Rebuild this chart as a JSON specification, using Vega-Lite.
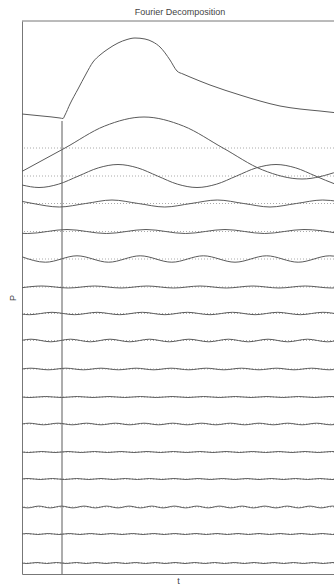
{
"$schema": "https://vega.github.io/schema/vega-lite/v6.json",
"width": 312, "height": 553,
"autosize": {"type": "none"},
"padding": {"left": 22, "top": 21, "right": 0, "bottom": 12},
"background": "white",
"title": {"text": "Fourier Decomposition", "fontSize": 9, "font": "Liberation Sans", "fontWeight": "normal", "color": "#444", "anchor": "middle", "frame": "group", "offset": 7, "baseline": "alphabetic", "dx": 2, "dy": 10},
"config": {
  "view": {"stroke": null},
  "axis": {"domainColor": "#777", "domainWidth": 1, "ticks": false, "labels": false, "grid": false, "titleFont": "Liberation Sans", "titleFontSize": 9, "titleFontWeight": "normal", "titleColor": "#444"}
},
"datasets": {
  "base": [{"b":426},{"b":398},{"b":370.5},{"b":342.5},{"b":315},{"b":287},{"b":260.5},{"b":233.5},{"b":205},{"b":177},{"b":150},{"b":122},{"b":95},{"b":67},{"b":40},{"b":11}],
  "waves": [
{"s":"P","t":0,"p":460},{"s":"P","t":20,"p":458},{"s":"P","t":38,"p":456},{"s":"P","t":41,"p":455.5},{"s":"P","t":43,"p":459},{"s":"P","t":48,"p":470},{"s":"P","t":56,"p":485},{"s":"P","t":64,"p":500},{"s":"P","t":71,"p":512},{"s":"P","t":78,"p":519},{"s":"P","t":86,"p":525},{"s":"P","t":96,"p":531},{"s":"P","t":105,"p":534.5},{"s":"P","t":113,"p":536},{"s":"P","t":123,"p":535},{"s":"P","t":131,"p":532},{"s":"P","t":138,"p":527},{"s":"P","t":148,"p":514},{"s":"P","t":155,"p":503},{"s":"P","t":161,"p":500},{"s":"P","t":168,"p":497},{"s":"P","t":188,"p":489},{"s":"P","t":218,"p":479},{"s":"P","t":238,"p":473},{"s":"P","t":258,"p":468},{"s":"P","t":278,"p":465},{"s":"P","t":298,"p":463},{"s":"P","t":316,"p":461},
{"s":"h1","t":0,"p":402.6},{"s":"h1","t":43,"p":426},{"s":"h1","t":82.5,"p":447.9},{"s":"h1","t":122,"p":457},{"s":"h1","t":161.5,"p":447.9},{"s":"h1","t":201,"p":426},{"s":"h1","t":240.5,"p":404.1},{"s":"h1","t":280,"p":395},{"s":"h1","t":316,"p":402.6},
{"s":"h2","t":0,"p":389},{"s":"h2","t":17,"p":386.5},{"s":"h2","t":36.75,"p":389.9},{"s":"h2","t":56.5,"p":398},{"s":"h2","t":76.25,"p":406.1},{"s":"h2","t":96,"p":409.5},{"s":"h2","t":115.75,"p":406.1},{"s":"h2","t":135.5,"p":398},{"s":"h2","t":155.25,"p":389.9},{"s":"h2","t":175,"p":386.5},{"s":"h2","t":194.75,"p":389.9},{"s":"h2","t":214.5,"p":398},{"s":"h2","t":234.25,"p":406.1},{"s":"h2","t":254,"p":409.5},{"s":"h2","t":273.75,"p":406.1},{"s":"h2","t":293.5,"p":398},{"s":"h2","t":313.25,"p":389.9},{"s":"h2","t":316,"p":389},
{"s":"h3","t":0,"p":372.6},{"s":"h3","t":11,"p":370.5},{"s":"h3","t":37.3,"p":367},{"s":"h3","t":63.7,"p":370.5},{"s":"h3","t":90,"p":374},{"s":"h3","t":116.3,"p":370.5},{"s":"h3","t":142.7,"p":367},{"s":"h3","t":169,"p":370.5},{"s":"h3","t":195.3,"p":374},{"s":"h3","t":221.7,"p":370.5},{"s":"h3","t":248,"p":367},{"s":"h3","t":274.3,"p":370.5},{"s":"h3","t":300.7,"p":374},{"s":"h3","t":316,"p":372.6},
{"s":"h4","t":0,"p":340.7},{"s":"h4","t":5.5,"p":340.5},{"s":"h4","t":45,"p":344.5},{"s":"h4","t":84.5,"p":340.5},{"s":"h4","t":124,"p":344.5},{"s":"h4","t":163.5,"p":340.5},{"s":"h4","t":203,"p":344.5},{"s":"h4","t":242.5,"p":340.5},{"s":"h4","t":282,"p":344.5},{"s":"h4","t":316,"p":340.7},
{"s":"h5","t":0,"p":317.2},{"s":"h5","t":23.4,"p":311.8},{"s":"h5","t":55,"p":318.2},{"s":"h5","t":86.6,"p":311.8},{"s":"h5","t":118.2,"p":318.2},{"s":"h5","t":149.8,"p":311.8},{"s":"h5","t":181.4,"p":318.2},{"s":"h5","t":213,"p":311.8},{"s":"h5","t":244.6,"p":318.2},{"s":"h5","t":276.2,"p":311.8},{"s":"h5","t":307.8,"p":318.2},{"s":"h5","t":316,"p":317.2},
{"s":"h6","t":0,"p":286.3},{"s":"h6","t":20,"p":288},{"s":"h6","t":46.3,"p":286},{"s":"h6","t":72.7,"p":288},{"s":"h6","t":99,"p":286},{"s":"h6","t":125.3,"p":288},{"s":"h6","t":151.7,"p":286},{"s":"h6","t":178,"p":288},{"s":"h6","t":204.3,"p":286},{"s":"h6","t":230.7,"p":288},{"s":"h6","t":257,"p":286},{"s":"h6","t":283.3,"p":288},{"s":"h6","t":309.7,"p":286},{"s":"h6","t":316,"p":286.3},
{"s":"h7","t":0,"p":259.9},{"s":"h7","t":7.4,"p":259.3},{"s":"h7","t":30,"p":261.7},{"s":"h7","t":52.6,"p":259.3},{"s":"h7","t":75.1,"p":261.7},{"s":"h7","t":97.7,"p":259.3},{"s":"h7","t":120.3,"p":261.7},{"s":"h7","t":142.9,"p":259.3},{"s":"h7","t":165.4,"p":261.7},{"s":"h7","t":188,"p":259.3},{"s":"h7","t":210.6,"p":261.7},{"s":"h7","t":233.1,"p":259.3},{"s":"h7","t":255.7,"p":261.7},{"s":"h7","t":278.3,"p":259.3},{"s":"h7","t":300.9,"p":261.7},{"s":"h7","t":316,"p":259.9},
{"s":"h8","t":0,"p":233.7},{"s":"h8","t":9,"p":234.8},{"s":"h8","t":28.8,"p":232.2},{"s":"h8","t":48.5,"p":234.8},{"s":"h8","t":68.3,"p":232.2},{"s":"h8","t":88,"p":234.8},{"s":"h8","t":107.8,"p":232.2},{"s":"h8","t":127.5,"p":234.8},{"s":"h8","t":147.3,"p":232.2},{"s":"h8","t":167,"p":234.8},{"s":"h8","t":186.8,"p":232.2},{"s":"h8","t":206.5,"p":234.8},{"s":"h8","t":226.3,"p":232.2},{"s":"h8","t":246,"p":234.8},{"s":"h8","t":265.8,"p":232.2},{"s":"h8","t":285.5,"p":234.8},{"s":"h8","t":305.3,"p":232.2},{"s":"h8","t":316,"p":233.7},
{"s":"h9","t":0,"p":205},{"s":"h9","t":8.8,"p":205.8},{"s":"h9","t":26.3,"p":204.2},{"s":"h9","t":43.9,"p":205.8},{"s":"h9","t":61.4,"p":204.2},{"s":"h9","t":79,"p":205.8},{"s":"h9","t":96.6,"p":204.2},{"s":"h9","t":114.1,"p":205.8},{"s":"h9","t":131.7,"p":204.2},{"s":"h9","t":149.2,"p":205.8},{"s":"h9","t":166.8,"p":204.2},{"s":"h9","t":184.3,"p":205.8},{"s":"h9","t":201.9,"p":204.2},{"s":"h9","t":219.4,"p":205.8},{"s":"h9","t":237,"p":204.2},{"s":"h9","t":254.6,"p":205.8},{"s":"h9","t":272.1,"p":204.2},{"s":"h9","t":289.7,"p":205.8},{"s":"h9","t":307.2,"p":204.2},{"s":"h9","t":316,"p":205},
{"s":"h10","t":0,"p":177},{"s":"h10","t":7.9,"p":176.5},{"s":"h10","t":23.7,"p":177.5},{"s":"h10","t":39.5,"p":176.5},{"s":"h10","t":55.3,"p":177.5},{"s":"h10","t":71.1,"p":176.5},{"s":"h10","t":86.9,"p":177.5},{"s":"h10","t":102.7,"p":176.5},{"s":"h10","t":118.5,"p":177.5},{"s":"h10","t":134.3,"p":176.5},{"s":"h10","t":150.1,"p":177.5},{"s":"h10","t":165.9,"p":176.5},{"s":"h10","t":181.7,"p":177.5},{"s":"h10","t":197.5,"p":176.5},{"s":"h10","t":213.3,"p":177.5},{"s":"h10","t":229.1,"p":176.5},{"s":"h10","t":244.9,"p":177.5},{"s":"h10","t":260.7,"p":176.5},{"s":"h10","t":276.5,"p":177.5},{"s":"h10","t":292.3,"p":176.5},{"s":"h10","t":308.1,"p":177.5},{"s":"h10","t":316,"p":177},
{"s":"h11","t":0,"p":150},{"s":"h11","t":7.2,"p":150.8},{"s":"h11","t":21.5,"p":149.2},{"s":"h11","t":35.9,"p":150.8},{"s":"h11","t":50.3,"p":149.2},{"s":"h11","t":64.6,"p":150.8},{"s":"h11","t":79,"p":149.2},{"s":"h11","t":93.4,"p":150.8},{"s":"h11","t":107.7,"p":149.2},{"s":"h11","t":122.1,"p":150.8},{"s":"h11","t":136.5,"p":149.2},{"s":"h11","t":150.8,"p":150.8},{"s":"h11","t":165.2,"p":149.2},{"s":"h11","t":179.6,"p":150.8},{"s":"h11","t":193.9,"p":149.2},{"s":"h11","t":208.3,"p":150.8},{"s":"h11","t":222.7,"p":149.2},{"s":"h11","t":237,"p":150.8},{"s":"h11","t":251.4,"p":149.2},{"s":"h11","t":265.8,"p":150.8},{"s":"h11","t":280.1,"p":149.2},{"s":"h11","t":294.5,"p":150.8},{"s":"h11","t":308.8,"p":149.2},{"s":"h11","t":316,"p":150},
{"s":"h12","t":0,"p":122},{"s":"h12","t":6.6,"p":121.5},{"s":"h12","t":19.8,"p":122.5},{"s":"h12","t":32.9,"p":121.5},{"s":"h12","t":46.1,"p":122.5},{"s":"h12","t":59.3,"p":121.5},{"s":"h12","t":72.4,"p":122.5},{"s":"h12","t":85.6,"p":121.5},{"s":"h12","t":98.8,"p":122.5},{"s":"h12","t":111.9,"p":121.5},{"s":"h12","t":125.1,"p":122.5},{"s":"h12","t":138.3,"p":121.5},{"s":"h12","t":151.4,"p":122.5},{"s":"h12","t":164.6,"p":121.5},{"s":"h12","t":177.8,"p":122.5},{"s":"h12","t":190.9,"p":121.5},{"s":"h12","t":204.1,"p":122.5},{"s":"h12","t":217.3,"p":121.5},{"s":"h12","t":230.4,"p":122.5},{"s":"h12","t":243.6,"p":121.5},{"s":"h12","t":256.8,"p":122.5},{"s":"h12","t":269.9,"p":121.5},{"s":"h12","t":283.1,"p":122.5},{"s":"h12","t":296.3,"p":121.5},{"s":"h12","t":309.4,"p":122.5},{"s":"h12","t":316,"p":122},
{"s":"h13","t":0,"p":95},{"s":"h13","t":6.1,"p":95.5},{"s":"h13","t":18.2,"p":94.5},{"s":"h13","t":30.4,"p":95.5},{"s":"h13","t":42.5,"p":94.5},{"s":"h13","t":54.7,"p":95.5},{"s":"h13","t":66.8,"p":94.5},{"s":"h13","t":79,"p":95.5},{"s":"h13","t":91.2,"p":94.5},{"s":"h13","t":103.3,"p":95.5},{"s":"h13","t":115.5,"p":94.5},{"s":"h13","t":127.6,"p":95.5},{"s":"h13","t":139.8,"p":94.5},{"s":"h13","t":151.9,"p":95.5},{"s":"h13","t":164.1,"p":94.5},{"s":"h13","t":176.2,"p":95.5},{"s":"h13","t":188.4,"p":94.5},{"s":"h13","t":200.5,"p":95.5},{"s":"h13","t":212.7,"p":94.5},{"s":"h13","t":224.8,"p":95.5},{"s":"h13","t":237,"p":94.5},{"s":"h13","t":249.2,"p":95.5},{"s":"h13","t":261.3,"p":94.5},{"s":"h13","t":273.5,"p":95.5},{"s":"h13","t":285.6,"p":94.5},{"s":"h13","t":297.8,"p":95.5},{"s":"h13","t":309.9,"p":94.5},{"s":"h13","t":316,"p":95},
{"s":"h14","t":0,"p":67},{"s":"h14","t":5.6,"p":66.1},{"s":"h14","t":16.9,"p":67.9},{"s":"h14","t":28.2,"p":66.1},{"s":"h14","t":39.5,"p":67.9},{"s":"h14","t":50.8,"p":66.1},{"s":"h14","t":62.1,"p":67.9},{"s":"h14","t":73.4,"p":66.1},{"s":"h14","t":84.6,"p":67.9},{"s":"h14","t":95.9,"p":66.1},{"s":"h14","t":107.2,"p":67.9},{"s":"h14","t":118.5,"p":66.1},{"s":"h14","t":129.8,"p":67.9},{"s":"h14","t":141.1,"p":66.1},{"s":"h14","t":152.4,"p":67.9},{"s":"h14","t":163.7,"p":66.1},{"s":"h14","t":174.9,"p":67.9},{"s":"h14","t":186.2,"p":66.1},{"s":"h14","t":197.5,"p":67.9},{"s":"h14","t":208.8,"p":66.1},{"s":"h14","t":220.1,"p":67.9},{"s":"h14","t":231.4,"p":66.1},{"s":"h14","t":242.7,"p":67.9},{"s":"h14","t":254,"p":66.1},{"s":"h14","t":265.2,"p":67.9},{"s":"h14","t":276.5,"p":66.1},{"s":"h14","t":287.8,"p":67.9},{"s":"h14","t":299.1,"p":66.1},{"s":"h14","t":310.4,"p":67.9},{"s":"h14","t":316,"p":67},
{"s":"h15","t":0,"p":40},{"s":"h15","t":5.3,"p":40.5},{"s":"h15","t":15.8,"p":39.5},{"s":"h15","t":26.3,"p":40.5},{"s":"h15","t":36.9,"p":39.5},{"s":"h15","t":47.4,"p":40.5},{"s":"h15","t":57.9,"p":39.5},{"s":"h15","t":68.5,"p":40.5},{"s":"h15","t":79,"p":39.5},{"s":"h15","t":89.5,"p":40.5},{"s":"h15","t":100.1,"p":39.5},{"s":"h15","t":110.6,"p":40.5},{"s":"h15","t":121.1,"p":39.5},{"s":"h15","t":131.7,"p":40.5},{"s":"h15","t":142.2,"p":39.5},{"s":"h15","t":152.7,"p":40.5},{"s":"h15","t":163.3,"p":39.5},{"s":"h15","t":173.8,"p":40.5},{"s":"h15","t":184.3,"p":39.5},{"s":"h15","t":194.9,"p":40.5},{"s":"h15","t":205.4,"p":39.5},{"s":"h15","t":215.9,"p":40.5},{"s":"h15","t":226.5,"p":39.5},{"s":"h15","t":237,"p":40.5},{"s":"h15","t":247.5,"p":39.5},{"s":"h15","t":258.1,"p":40.5},{"s":"h15","t":268.6,"p":39.5},{"s":"h15","t":279.1,"p":40.5},{"s":"h15","t":289.7,"p":39.5},{"s":"h15","t":300.2,"p":40.5},{"s":"h15","t":310.7,"p":39.5},{"s":"h15","t":316,"p":40},
{"s":"h16","t":0,"p":11},{"s":"h16","t":4.9,"p":10.5},{"s":"h16","t":14.8,"p":11.5},{"s":"h16","t":24.7,"p":10.5},{"s":"h16","t":34.6,"p":11.5},{"s":"h16","t":44.4,"p":10.5},{"s":"h16","t":54.3,"p":11.5},{"s":"h16","t":64.2,"p":10.5},{"s":"h16","t":74.1,"p":11.5},{"s":"h16","t":83.9,"p":10.5},{"s":"h16","t":93.8,"p":11.5},{"s":"h16","t":103.7,"p":10.5},{"s":"h16","t":113.6,"p":11.5},{"s":"h16","t":123.4,"p":10.5},{"s":"h16","t":133.3,"p":11.5},{"s":"h16","t":143.2,"p":10.5},{"s":"h16","t":153.1,"p":11.5},{"s":"h16","t":163,"p":10.5},{"s":"h16","t":172.8,"p":11.5},{"s":"h16","t":182.7,"p":10.5},{"s":"h16","t":192.6,"p":11.5},{"s":"h16","t":202.5,"p":10.5},{"s":"h16","t":212.3,"p":11.5},{"s":"h16","t":222.2,"p":10.5},{"s":"h16","t":232.1,"p":11.5},{"s":"h16","t":242,"p":10.5},{"s":"h16","t":251.8,"p":11.5},{"s":"h16","t":261.7,"p":10.5},{"s":"h16","t":271.6,"p":11.5},{"s":"h16","t":281.5,"p":10.5},{"s":"h16","t":291.3,"p":11.5},{"s":"h16","t":301.2,"p":10.5},{"s":"h16","t":311.1,"p":11.5},{"s":"h16","t":316,"p":11}
  ]
},
"layer": [
  {
    "data": {"name": "base"},
    "mark": {"type": "rule", "strokeDash": [1, 2], "color": "#aaa", "strokeWidth": 1},
    "encoding": {
      "y": {"field": "b", "type": "quantitative", "scale": {"domain": [0, 553], "nice": false, "zero": false}, "axis": {"title": "P", "titlePadding": 5, "orient": "left"}}
    }
  },
  {
    "data": {"name": "waves"},
    "mark": {"type": "line", "interpolate": "monotone", "clip": true, "color": "#5a5a5a", "strokeWidth": 1},
    "encoding": {
      "x": {"field": "t", "type": "quantitative", "scale": {"domain": [0, 312], "nice": false, "zero": false}, "axis": {"title": "t", "titlePadding": 2, "orient": "bottom"}},
      "y": {"field": "p", "type": "quantitative"},
      "detail": {"field": "s"}
    }
  },
  {
    "data": {"values": [{}]},
    "mark": {"type": "rule", "color": "#5a5a5a", "strokeWidth": 1},
    "encoding": {"x": {"datum": 40}, "y": {"datum": 0}, "y2": {"datum": 453}}
  },
  {
    "data": {"values": [{}]},
    "mark": {"type": "rule", "color": "#777", "strokeWidth": 1},
    "encoding": {"y": {"datum": 553}}
  }
]
}
